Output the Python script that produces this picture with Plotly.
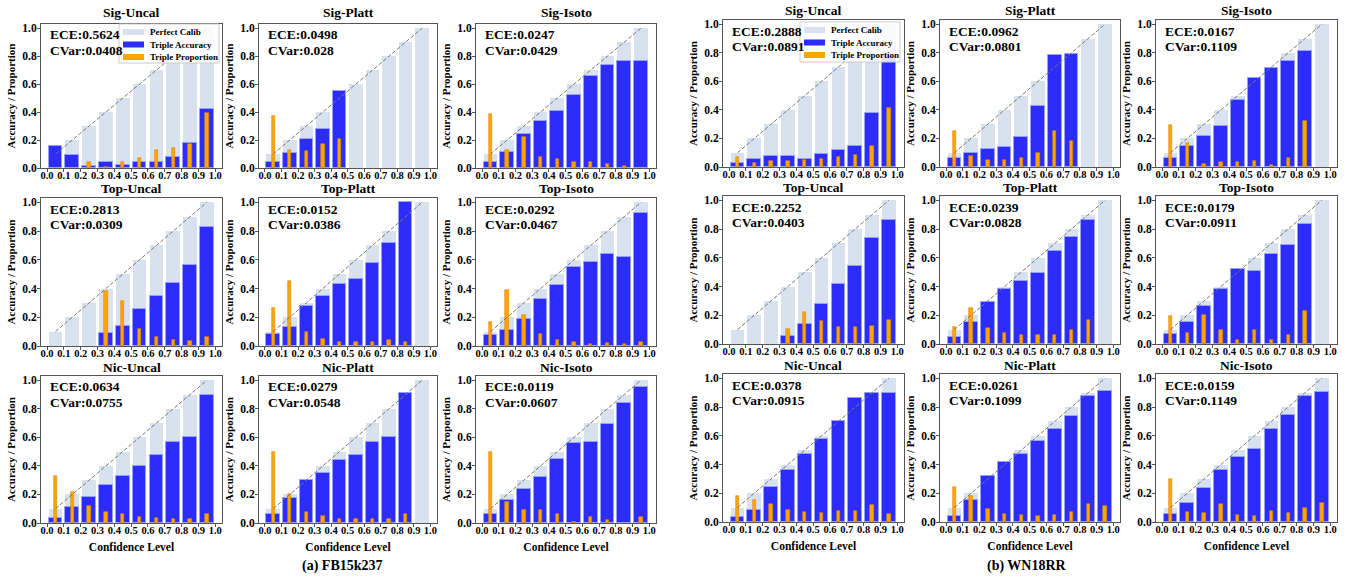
import plotly.graph_objects as go

# ---------------- data ----------------
BIN_CENTERS = [0.05, 0.15, 0.25, 0.35, 0.45, 0.55, 0.65, 0.75, 0.85, 0.95]
PERFECT = [0.1, 0.2, 0.3, 0.4, 0.5, 0.6, 0.7, 0.8, 0.9, 1.0]
X_TICKS = [0.0, 0.1, 0.2, 0.3, 0.4, 0.5, 0.6, 0.7, 0.8, 0.9, 1.0]
Y_TICKS = [0.0, 0.2, 0.4, 0.6, 0.8, 1.0]
N = None

# FB15k237
FB_SIG_UNCAL_ACC = [0.155, 0.09, 0.015, 0.04, 0.025, 0.04, 0.045, 0.08, 0.18, 0.425]
FB_SIG_UNCAL_PROP = [N, N, 0.04, 0.01, 0.045, 0.07, 0.13, 0.145, 0.175, 0.39]
FB_SIG_PLATT_ACC = [0.045, 0.11, 0.21, 0.28, 0.55, N, N, N, N, N]
FB_SIG_PLATT_PROP = [0.37, 0.13, 0.125, 0.175, 0.21, N, N, N, N, N]
FB_SIG_ISOTO_ACC = [0.045, 0.115, 0.24, 0.335, 0.41, 0.525, 0.655, 0.735, 0.765, 0.765]
FB_SIG_ISOTO_PROP = [0.385, 0.13, 0.22, 0.08, 0.065, 0.045, 0.04, 0.03, 0.015, N]
FB_TOP_UNCAL_ACC = [N, N, N, 0.09, 0.14, 0.255, 0.345, 0.44, 0.565, 0.825]
FB_TOP_UNCAL_PROP = [N, N, N, 0.385, 0.31, 0.12, 0.065, 0.04, 0.035, 0.065]
FB_TOP_PLATT_ACC = [0.085, 0.135, 0.275, 0.35, 0.435, 0.465, 0.575, 0.72, 1.0, N]
FB_TOP_PLATT_PROP = [0.265, 0.455, 0.095, 0.05, 0.03, 0.03, 0.025, 0.045, 0.03, N]
FB_TOP_ISOTO_ACC = [0.08, 0.11, 0.19, 0.325, 0.425, 0.55, 0.585, 0.64, 0.62, 0.925]
FB_TOP_ISOTO_PROP = [0.17, 0.39, 0.215, 0.085, 0.04, 0.025, 0.015, 0.02, 0.015, 0.025]
FB_NIC_UNCAL_ACC = [0.035, 0.11, 0.185, 0.265, 0.33, 0.40, 0.48, 0.565, 0.60, 0.90]
FB_NIC_UNCAL_PROP = [0.33, 0.22, 0.12, 0.08, 0.06, 0.045, 0.035, 0.025, 0.03, 0.065]
FB_NIC_PLATT_ACC = [0.06, 0.175, 0.30, 0.35, 0.44, 0.48, 0.57, 0.60, 0.91, N]
FB_NIC_PLATT_PROP = [0.495, 0.20, 0.08, 0.05, 0.03, 0.025, 0.025, 0.03, 0.06, N]
FB_NIC_ISOTO_ACC = [0.06, 0.16, 0.24, 0.32, 0.45, 0.56, 0.565, 0.695, 0.84, 0.95]
FB_NIC_ISOTO_PROP = [0.495, 0.145, 0.09, 0.09, 0.065, 0.005, 0.045, 0.02, N, 0.045]

# WN18RR
WN_SIG_UNCAL_ACC = [0.03, 0.055, 0.08, 0.08, 0.055, 0.09, 0.12, 0.145, 0.375, 0.78]
WN_SIG_UNCAL_PROP = [0.07, 0.025, 0.04, 0.045, 0.05, 0.055, 0.07, 0.085, 0.15, 0.415]
WN_SIG_PLATT_ACC = [0.06, 0.10, 0.125, 0.14, 0.21, 0.425, 0.785, 0.79, N, N]
WN_SIG_PLATT_PROP = [0.255, 0.075, 0.05, 0.05, 0.06, 0.095, 0.25, 0.18, N, N]
WN_SIG_ISOTO_ACC = [0.065, 0.145, 0.22, 0.29, 0.47, 0.625, 0.695, 0.74, 0.815, N]
WN_SIG_ISOTO_PROP = [0.295, 0.17, 0.02, 0.035, 0.035, 0.045, 0.015, 0.065, 0.325, N]
WN_TOP_UNCAL_ACC = [N, N, N, 0.055, 0.14, 0.28, 0.415, 0.54, 0.735, 0.86]
WN_TOP_UNCAL_PROP = [N, N, N, 0.105, 0.22, 0.16, 0.12, 0.115, 0.125, 0.165]
WN_TOP_PLATT_ACC = [0.05, 0.155, 0.295, 0.385, 0.44, 0.495, 0.65, 0.745, 0.86, N]
WN_TOP_PLATT_PROP = [0.12, 0.25, 0.11, 0.075, 0.065, 0.06, 0.065, 0.095, 0.165, N]
WN_TOP_ISOTO_ACC = [0.07, 0.155, 0.265, 0.385, 0.52, 0.51, 0.625, 0.69, 0.835, N]
WN_TOP_ISOTO_PROP = [0.195, 0.08, 0.20, 0.095, 0.025, 0.10, 0.025, 0.06, 0.23, N]
WN_NIC_UNCAL_ACC = [0.035, 0.085, 0.245, 0.365, 0.47, 0.58, 0.705, 0.86, 0.90, 0.895]
WN_NIC_UNCAL_PROP = [0.18, 0.155, 0.125, 0.085, 0.07, 0.065, 0.08, 0.08, 0.115, 0.055]
WN_NIC_PLATT_ACC = [0.04, 0.155, 0.32, 0.415, 0.475, 0.565, 0.645, 0.74, 0.875, 0.91]
WN_NIC_PLATT_PROP = [0.245, 0.18, 0.09, 0.055, 0.05, 0.045, 0.05, 0.07, 0.125, 0.11]
WN_NIC_ISOTO_ACC = [0.055, 0.135, 0.24, 0.36, 0.455, 0.505, 0.645, 0.745, 0.875, 0.905]
WN_NIC_ISOTO_PROP = [0.30, 0.07, 0.065, 0.125, 0.05, 0.04, 0.075, 0.06, 0.10, 0.135]

TITLES = ["Sig-Uncal", "Sig-Platt", "Sig-Isoto",
          "Top-Uncal", "Top-Platt", "Top-Isoto",
          "Nic-Uncal", "Nic-Platt", "Nic-Isoto"]
FB_ECE = ["0.5624", "0.0498", "0.0247", "0.2813", "0.0152", "0.0292", "0.0634", "0.0279", "0.0119"]
FB_CVAR = ["0.0408", "0.028", "0.0429", "0.0309", "0.0386", "0.0467", "0.0755", "0.0548", "0.0607"]
WN_ECE = ["0.2888", "0.0962", "0.0167", "0.2252", "0.0239", "0.0179", "0.0378", "0.0261", "0.0159"]
WN_CVAR = ["0.0891", "0.0801", "0.1109", "0.0403", "0.0828", "0.0911", "0.0915", "0.1099", "0.1149"]
CAPTIONS = ["(a) FB15k237", "(b) WN18RR"]
LEGEND_LABELS = ["Perfect Calib", "Triple Accuracy", "Triple Proportion"]

FB_ACC = [FB_SIG_UNCAL_ACC, FB_SIG_PLATT_ACC, FB_SIG_ISOTO_ACC, FB_TOP_UNCAL_ACC, FB_TOP_PLATT_ACC,
          FB_TOP_ISOTO_ACC, FB_NIC_UNCAL_ACC, FB_NIC_PLATT_ACC, FB_NIC_ISOTO_ACC]
FB_PROP = [FB_SIG_UNCAL_PROP, FB_SIG_PLATT_PROP, FB_SIG_ISOTO_PROP, FB_TOP_UNCAL_PROP, FB_TOP_PLATT_PROP,
           FB_TOP_ISOTO_PROP, FB_NIC_UNCAL_PROP, FB_NIC_PLATT_PROP, FB_NIC_ISOTO_PROP]
WN_ACC = [WN_SIG_UNCAL_ACC, WN_SIG_PLATT_ACC, WN_SIG_ISOTO_ACC, WN_TOP_UNCAL_ACC, WN_TOP_PLATT_ACC,
          WN_TOP_ISOTO_ACC, WN_NIC_UNCAL_ACC, WN_NIC_PLATT_ACC, WN_NIC_ISOTO_ACC]
WN_PROP = [WN_SIG_UNCAL_PROP, WN_SIG_PLATT_PROP, WN_SIG_ISOTO_PROP, WN_TOP_UNCAL_PROP, WN_TOP_PLATT_PROP,
           WN_TOP_ISOTO_PROP, WN_NIC_UNCAL_PROP, WN_NIC_PLATT_PROP, WN_NIC_ISOTO_PROP]

GROUPS = [
    dict(acc=FB_ACC, prop=FB_PROP, ece=FB_ECE, cvar=FB_CVAR, caption=CAPTIONS[0]),
    dict(acc=WN_ACC, prop=WN_PROP, ece=WN_ECE, cvar=WN_CVAR, caption=CAPTIONS[1]),
]

# ---------------- layout geometry (screen pixels) ----------------
W, H = 1361, 580
COLS_PX = [[(41, 222), (259, 437), (476, 656)], [(723, 904), (940, 1120), (1156, 1337)]]
ROWS_PX = [[(24, 168), (198, 346), (376, 523)], [(20, 167), (196, 344), (374, 522)]]
TITLE_GAP_PX = [[11, 9, 9], [9, 9, 9]]
CAPTION_PX = [(343, 566), (1027, 566)]
LEGEND_BOX_PX = [(119, 24, 219, 63), (800, 22, 900, 62)]

SERIF = "Liberation Serif"
C_PERF = "rgb(216,226,238)"
C_ACC = "rgb(44,44,252)"
C_PROP = "rgb(255,165,0)"
FRAME = "#555555"


def px(xp):
    return xp / W


def py(yp):
    return 1 - yp / H


def bold(size):
    return dict(family=SERIF, size=size, color="black", weight="bold")


fig = go.Figure()
annotations = []
shapes = []
layout_axes = {}

k = 0
for g, grp in enumerate(GROUPS):
    for r in range(3):
        for c in range(3):
            i = r * 3 + c
            k += 1
            xa = "x" if k == 1 else f"x{k}"
            ya = "y" if k == 1 else f"y{k}"
            x0p, x1p = COLS_PX[g][c]
            y0p, y1p = ROWS_PX[g][r]

            fig.add_trace(go.Bar(x=BIN_CENTERS, y=PERFECT, width=0.082, name=LEGEND_LABELS[0],
                                 marker=dict(color=C_PERF, line=dict(width=0)),
                                 xaxis=xa, yaxis=ya, showlegend=False, hoverinfo="skip"))
            fig.add_trace(go.Bar(x=BIN_CENTERS, y=grp["acc"][i], width=0.082, name=LEGEND_LABELS[1],
                                 marker=dict(color=C_ACC, line=dict(width=1, color="rgb(150,160,255)")),
                                 xaxis=xa, yaxis=ya, showlegend=False))
            fig.add_trace(go.Bar(x=BIN_CENTERS, y=grp["prop"][i], width=0.02, name=LEGEND_LABELS[2],
                                 marker=dict(color=C_PROP, line=dict(width=0.6, color="rgb(225,135,0)")),
                                 xaxis=xa, yaxis=ya, showlegend=False))
            fig.add_trace(go.Scatter(x=[BIN_CENTERS[0], BIN_CENTERS[-1]], y=[PERFECT[0], PERFECT[-1]],
                                     mode="lines",
                                     line=dict(color="rgb(120,120,120)", width=1, dash="4px,2px"),
                                     xaxis=xa, yaxis=ya, showlegend=False, hoverinfo="skip"))

            xkey = "xaxis" if k == 1 else f"xaxis{k}"
            ykey = "yaxis" if k == 1 else f"yaxis{k}"
            xdict = dict(domain=[px(x0p), px(x1p)], anchor=ya, range=[-0.036, 1.04], automargin=False,
                         tickvals=X_TICKS, ticktext=[f"{v:.1f}" for v in X_TICKS], tickangle=0,
                         tickfont=bold(10.5), ticklabelstandoff=-6,
                         showgrid=False, zeroline=False, showline=True, linecolor=FRAME, linewidth=1,
                         mirror=True, ticks="outside", ticklen=3, tickcolor=FRAME, fixedrange=True)
            if r == 2:
                xdict["title"] = dict(text="Confidence Level", standoff=8, font=bold(11.5))
            ydict = dict(domain=[py(y1p), py(y0p)], anchor=xa, range=[0, 1.03], automargin=False,
                         tickvals=Y_TICKS, ticktext=[f"{v:.1f}" for v in Y_TICKS],
                         tickfont=bold(11.5), ticklabelstandoff=-2,
                         showgrid=False, zeroline=False, showline=True, linecolor=FRAME, linewidth=1,
                         mirror=True, ticks="outside", ticklen=3, tickcolor=FRAME, fixedrange=True,
                         title=dict(text="Accuracy / Proportion", standoff=4, font=bold(11)))
            layout_axes[xkey] = xdict
            layout_axes[ykey] = ydict

            annotations.append(dict(text=TITLES[i], x=px((x0p + x1p) / 2), y=py(y0p - TITLE_GAP_PX[g][r]),
                                    xref="paper", yref="paper", xanchor="center", yanchor="middle",
                                    showarrow=False, font=bold(13.5)))
            annotations.append(dict(text=f"ECE:{grp['ece'][i]}", x=px(x0p + 7), y=py(y0p + 11),
                                    xref="paper", yref="paper", xanchor="left", yanchor="middle",
                                    showarrow=False, font=bold(13.5)))
            annotations.append(dict(text=f"CVar:{grp['cvar'][i]}", x=px(x0p + 7), y=py(y0p + 26),
                                    xref="paper", yref="paper", xanchor="left", yanchor="middle",
                                    showarrow=False, font=bold(13.5)))

    cx, cy = CAPTION_PX[g]
    annotations.append(dict(text=grp["caption"], x=px(cx), y=py(cy), xref="paper", yref="paper",
                            xanchor="center", yanchor="middle", showarrow=False, font=bold(14)))

    # manual legend (box, patches, labels)
    bx0, by0, bx1, by1 = LEGEND_BOX_PX[g]
    shapes.append(dict(type="rect", xref="paper", yref="paper", x0=px(bx0), x1=px(bx1),
                       y0=py(by1), y1=py(by0), fillcolor="rgba(255,255,255,0.85)",
                       line=dict(color="#cccccc", width=1), layer="above"))
    patch_colors = [C_PERF, C_ACC, C_PROP]
    for j in range(3):
        yc = by0 + 8 + j * 12.5
        shapes.append(dict(type="rect", xref="paper", yref="paper", x0=px(bx0 + 4), x1=px(bx0 + 25),
                           y0=py(yc + 3), y1=py(yc - 3), fillcolor=patch_colors[j],
                           line=dict(width=0), layer="above"))
        annotations.append(dict(text=LEGEND_LABELS[j], x=px(bx0 + 29), y=py(yc), xref="paper",
                                yref="paper", xanchor="left", yanchor="middle", showarrow=False,
                                font=bold(9)))

fig.update_layout(
    width=W, height=H, margin=dict(l=0, r=0, t=0, b=0, autoexpand=False),
    paper_bgcolor="white", plot_bgcolor="white",
    font=dict(family=SERIF, color="black"),
    barmode="overlay", bargap=0, showlegend=False,
    annotations=annotations, shapes=shapes,
    **layout_axes,
)

fig.write_html("out.html", config={"displayModeBar": False},
               post_script="document.body.style.margin='0';document.body.style.overflow='hidden';")
